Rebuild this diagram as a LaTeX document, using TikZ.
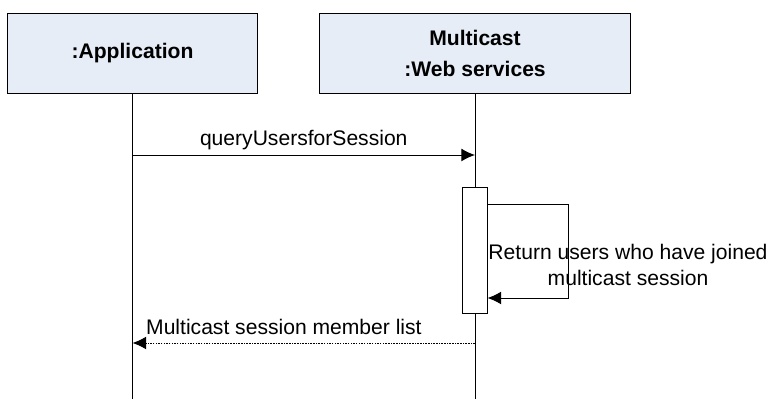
\documentclass[tikz,border=0pt]{standalone}
\usepackage{fontspec}
\setmainfont{Liberation Sans}
\usetikzlibrary{arrows.meta}
\definecolor{lifefill}{RGB}{230,237,247}
\tikzset{
    actor/.style = {draw, rectangle, fill=lifefill,
        minimum height=1.975cm,
        font=\fontsize{15}{21.5}\selectfont\bfseries, align=center},
    activation/.style = {draw, rectangle, fill=white,
        minimum width=0.625cm,
        minimum height=3.125cm},
    msg/.style = {draw, -{Latex[length=0.34cm,width=0.32cm]}},
    reply/.style = {msg, dash pattern=on 1.1pt off 0.8pt},
    msgtext/.style = {font=\fontsize{15}{18.4}\selectfont, align=center}
}

\begin{document}
\begin{tikzpicture}[x=0.025cm, y=-0.025cm, line width=0.7pt]
                \useasboundingbox (0,0) rectangle (776,399);
                \node[actor, minimum width=6.225cm] (app) at (132.5,53.5) {:Application};
                \node[actor, minimum width=7.75cm] (mws) at (475,53.5) {Multicast\\:Web services};
                \coordinate (append) at (app.south |- 0,399);
                \coordinate (mwsend) at (mws.south |- 0,399);
                \draw (app.south) -- (append);
                \draw (mws.south) -- (mwsend);
                \node[activation] (act) at (474.5,250.5) {};
                \coordinate (qstart) at (app.south |- 0,155);
                \coordinate (qend) at (mws.south |- 0,155);
                \draw [msg] (qstart) -- node[msgtext, above] {queryUsersforSession} (qend);
                \coordinate (callout) at (act.east |- 0,204);
                \coordinate (callin) at (act.east |- 0,298);
                \draw [msg] (callout) -- ++(81,0) |- (callin);
                \node[msgtext] (calltext) at (628,265) {Return users who have joined\\multicast session};
                \coordinate (rstart) at (mws.south |- 0,343);
                \coordinate (rend) at (app.south |- 0,343);
                \draw [reply] (rstart) -- (rend);
                \node[msgtext, anchor=west] (listtext) at (141,327) {Multicast session member list};
            \end{tikzpicture}
\end{document}
